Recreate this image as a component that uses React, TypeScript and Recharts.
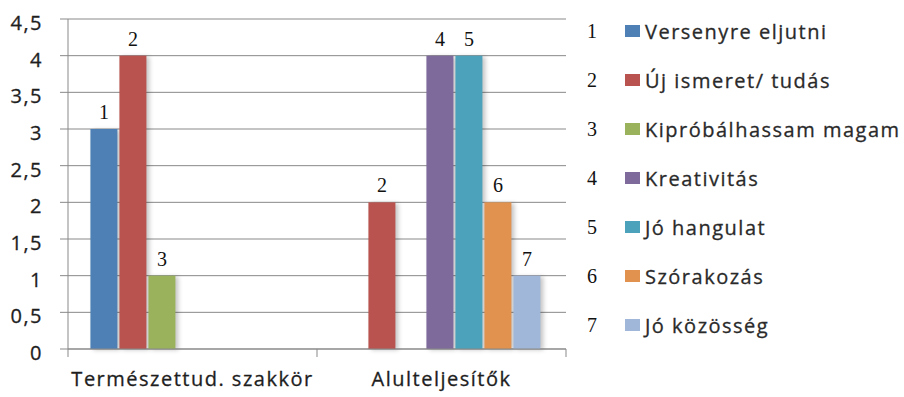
import React from 'react';
import {
  BarChart,
  Bar,
  XAxis,
  YAxis,
  CartesianGrid,
  Legend,
  LabelList,
} from 'recharts';

// Two groups on the category axis
const categories = ['Természettud. szakkör', 'Alulteljesítők'];

// One array per answer, values in category order
const versenyreEljutni = [3, 0];
const ujIsmeret = [4, 2];
const kiprobalhassam = [1, 0];
const kreativitas = [0, 4];
const joHangulat = [0, 4];
const szorakozas = [0, 2];
const joKozosseg = [0, 1];

const seriesNames = [
  'Versenyre eljutni',
  'Új ismeret/ tudás',
  'Kipróbálhassam magam',
  'Kreativitás',
  'Jó hangulat',
  'Szórakozás',
  'Jó közösség',
];

const seriesValues = [
  versenyreEljutni,
  ujIsmeret,
  kiprobalhassam,
  kreativitas,
  joHangulat,
  szorakozas,
  joKozosseg,
];

const seriesColors = [
  '#4E80B6',
  '#B9534F',
  '#9AB25C',
  '#7F6A9C',
  '#4BA2BA',
  '#E0924E',
  '#A1B7D9',
];

const yTicks = [0, 0.5, 1, 1.5, 2, 2.5, 3, 3.5, 4, 4.5];

const data = categories.map((category, i) => {
  const row: Record<string, string | number> = { category };
  seriesValues.forEach((values, s) => {
    row[`s${s + 1}`] = values[i];
  });
  return row;
});

const SANS = '"Open Sans", "DejaVu Sans", sans-serif';
const SERIF = '"Liberation Serif", "DejaVu Serif", serif';
const AXIS_GRAY = '#898989';
const TEXT = '#1e1e1e';

const sansText = {
  fontFamily: SANS,
  fontSize: 20,
  letterSpacing: 1.5,
  fill: TEXT,
  stroke: TEXT,
  strokeWidth: 0.3,
};

const formatTick = (v: number) => String(v).replace('.', ',');

const YTick = (props: any) => {
  const { x, y, payload } = props;
  return (
    <text x={x} y={y} dy={11} textAnchor="end" {...sansText}>
      {formatTick(payload.value)}
    </text>
  );
};

// Category label at the band centre, plus tick marks on the band edges
const XTick = (props: any) => {
  const { x, y, payload, index, visibleTicksCount, width } = props;
  const count = Number(visibleTicksCount) || categories.length;
  const band = Number(width) / count;
  const left = Number(x) - band / 2;
  const right = Number(x) + band / 2;
  const hasBand = Number.isFinite(band) && band > 0;
  return (
    <g>
      {hasBand && (
        <line x1={left} x2={left} y1={y} y2={Number(y) + 8} stroke={AXIS_GRAY} strokeWidth={1} />
      )}
      {hasBand && index === count - 1 && (
        <line x1={right} x2={right} y1={y} y2={Number(y) + 8} stroke={AXIS_GRAY} strokeWidth={1} />
      )}
      <text x={x} y={y} dy={37} textAnchor="middle" {...sansText}>
        {payload.value}
      </text>
    </g>
  );
};

// Bar with a soft drop shadow; zero-height bars draw nothing
const ShadowBar = (props: any) => {
  const { x, y, width, height, fill } = props;
  if (!height || height <= 0) return <g />;
  return (
    <rect
      x={x}
      y={y}
      width={width}
      height={height}
      fill={fill}
      style={{ filter: 'drop-shadow(3px 1px 2px rgba(0,0,0,0.22))' }}
    />
  );
};

const makeNumberLabel = (num: number) => (props: any) => {
  const { x, y, width, value } = props;
  if (!value) return <g />;
  return (
    <text
      x={Number(x) + Number(width) / 2}
      y={Number(y) - 10}
      textAnchor="middle"
      fontFamily={SERIF}
      fontSize={20}
      fill="#111"
    >
      {num}
    </text>
  );
};

// Numbered legend, kept in series order
const renderLegend = () => (
  <svg width={324} height={360}>
    {seriesNames.map((name, i) => {
      const cy = 31 + i * 49;
      return (
        <g key={name}>
          <text
            x={12}
            y={cy + 7}
            textAnchor="middle"
            fontFamily={SERIF}
            fontSize={20}
            fill="#111"
          >
            {i + 1}
          </text>
          <rect x={45} y={cy - 6} width={15} height={12} fill={seriesColors[i]} />
          <text x={65} y={cy + 8} {...sansText} fill="#2a2a2a" stroke="#2a2a2a">
            {name}
          </text>
        </g>
      );
    })}
  </svg>
);

export default function App() {
  return (
    <div style={{ position: 'absolute', left: 0, top: 0, width: 904, height: 397, background: '#fff' }}>
      <BarChart
        width={904}
        height={397}
        data={data}
        margin={{ top: 19, right: 338, bottom: 0, left: 0 }}
        barCategoryGap="9%"
        barGap={2}
      >
        <CartesianGrid vertical={false} stroke={AXIS_GRAY} strokeWidth={1} />
        <XAxis
          dataKey="category"
          height={48}
          axisLine={{ stroke: AXIS_GRAY }}
          tickLine={false}
          tickSize={0}
          tickMargin={0}
          tick={<XTick />}
          interval={0}
        />
        <YAxis
          width={68}
          domain={[0, 4.5]}
          ticks={yTicks}
          interval={0}
          axisLine={{ stroke: AXIS_GRAY }}
          tickLine={{ stroke: AXIS_GRAY }}
          tickSize={8}
          tickMargin={17}
          tick={<YTick />}
        />
        <Legend
          layout="horizontal"
          verticalAlign="middle"
          align="center"
          wrapperStyle={{ left: 580, top: 0, right: 'auto', width: 324, height: 360 }}
          content={renderLegend}
        />
        {seriesNames.map((name, s) => (
          <Bar
            key={name}
            dataKey={`s${s + 1}`}
            name={name}
            fill={seriesColors[s]}
            shape={<ShadowBar />}
            isAnimationActive={false}
          >
            <LabelList dataKey={`s${s + 1}`} content={makeNumberLabel(s + 1)} />
          </Bar>
        ))}
      </BarChart>
    </div>
  );
}
